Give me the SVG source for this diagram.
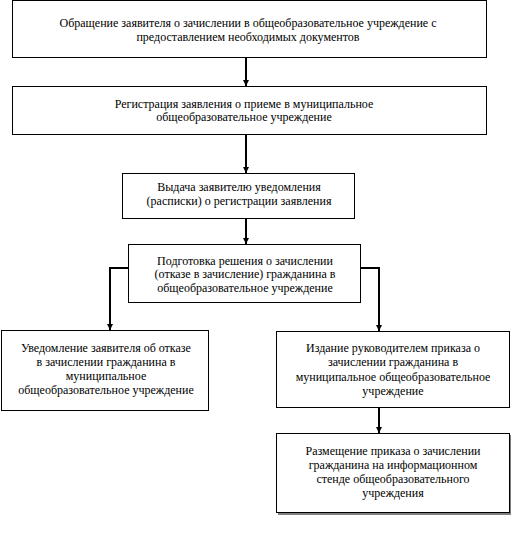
<svg xmlns="http://www.w3.org/2000/svg" width="511" height="539" viewBox="0 0 511 539">
<style>
.box{fill:#fff;stroke:#000;stroke-width:1}
.t{font-family:"Liberation Serif","Times New Roman",serif;font-size:12px;fill:#000;text-anchor:middle}
.c{fill:none;stroke:#000;stroke-width:2}
</style>
<defs>
<marker id="ah" viewBox="0 0 6 6" refX="6" refY="3" markerWidth="3" markerHeight="3" orient="auto" markerUnits="strokeWidth">
<path d="M0,0 L6,3 L0,6 Z" fill="#000"/>
</marker>
</defs>
<rect width="511" height="539" fill="#fff"/>
<g id="connectors">
<line class="c" x1="246" y1="57" x2="246" y2="86" marker-end="url(#ah)"/>
<line class="c" x1="246" y1="135" x2="246" y2="173" marker-end="url(#ah)"/>
<line class="c" x1="246" y1="219" x2="246" y2="244" marker-end="url(#ah)"/>
<polyline class="c" points="128,268 110,268 110,330" marker-end="url(#ah)"/>
<polyline class="c" points="361,268 379,268 379,331" marker-end="url(#ah)"/>
<line class="c" x1="379" y1="407" x2="379" y2="433" marker-end="url(#ah)"/>
</g>
<g id="n1">
<rect class="box" x="12.5" y="0.5" width="474" height="57"/>
<text class="t" x="248" y="27">Обращение заявителя о зачислении в общеобразовательное учреждение  с</text>
<text class="t" x="248" y="41">предоставлением  необходимых документов</text>
</g>
<g id="n2">
<rect class="box" x="12.5" y="86.5" width="474" height="48"/>
<text class="t" x="244" y="108">Регистрация заявления о приеме в муниципальное</text>
<text class="t" x="244" y="121">общеобразовательное учреждение</text>
</g>
<g id="n3">
<rect class="box" x="122.5" y="173.5" width="232" height="45"/>
<text class="t" x="239" y="191">Выдача заявителю уведомления</text>
<text class="t" x="239" y="205">(расписки) о регистрации заявления</text>
</g>
<g id="n4">
<rect class="box" x="128.5" y="244.5" width="232" height="58"/>
<text class="t" x="245" y="265">Подготовка решения о зачислении</text>
<text class="t" x="245" y="278">(отказе в зачисление) гражданина в</text>
<text class="t" x="245" y="292">общеобразовательное учреждение</text>
</g>
<g id="n5">
<rect class="box" x="1.5" y="330.5" width="207" height="80"/>
<text class="t" x="106" y="352">Уведомление заявителя об отказе</text>
<text class="t" x="106" y="366">в зачислении гражданина в</text>
<text class="t" x="106" y="380">муниципальное</text>
<text class="t" x="106" y="394">общеобразовательное учреждение</text>
</g>
<g id="n6">
<rect class="box" x="276.5" y="331.5" width="233" height="76"/>
<text class="t" x="393" y="352">Издание руководителем приказа о</text>
<text class="t" x="393" y="366">зачислении гражданина в</text>
<text class="t" x="393" y="381">муниципальное общеобразовательное</text>
<text class="t" x="393" y="395">учреждение</text>
</g>
<g id="n7">
<rect x="278" y="435" width="233" height="80" fill="#808080"/>
<rect class="box" x="276.5" y="433.5" width="233" height="79"/>
<text class="t" x="393" y="455">Размещение приказа о зачислении</text>
<text class="t" x="393" y="469">гражданина на информационном</text>
<text class="t" x="393" y="483">стенде общеобразовательного</text>
<text class="t" x="393" y="497">учреждения</text>
</g>
</svg>
